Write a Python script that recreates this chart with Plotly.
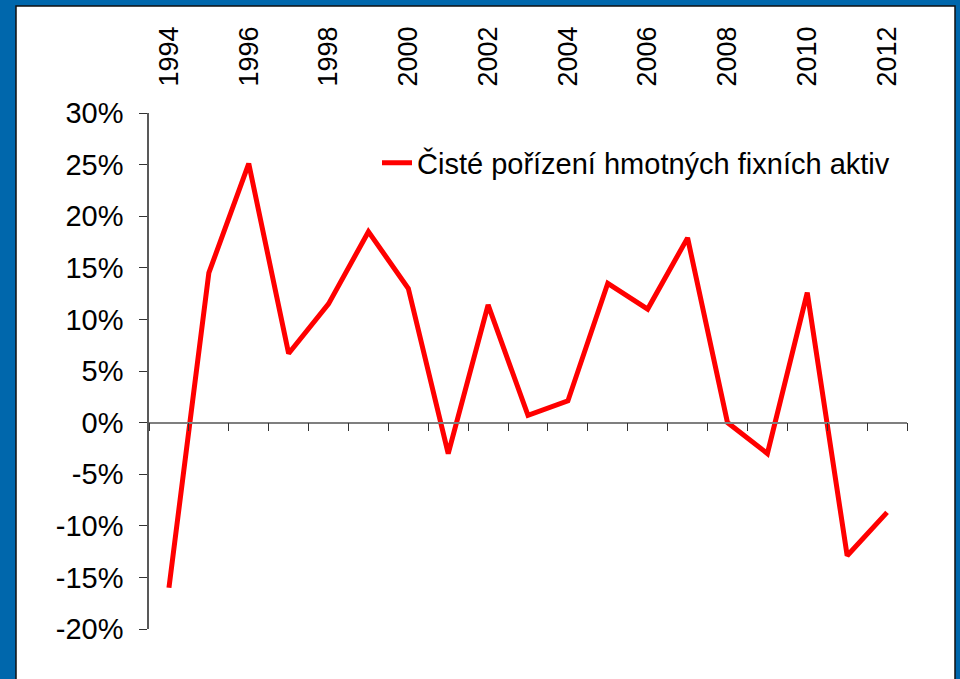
import plotly.graph_objects as go

years = list(range(1994, 2013))
values = [-16.0, 14.5, 25.1, 6.7, 11.5, 18.5, 13.0, -3.0, 11.4, 0.7,
          2.1, 13.5, 11.0, 17.9, 0.0, -3.0, 12.6, -12.9, -8.7]
series_name = "Čisté pořízení hmotných fixních aktiv"
top_labels = years[::2]
y_tick_values = [-20, -15, -10, -5, 0, 5, 10, 15, 20, 25, 30]
y_tick_labels = ["-20%", "-15%", "-10%", "-5%", "0%", "5%", "10%", "15%", "20%", "25%", "30%"]

vals = [v / 100 for v in values]
YMIN, YMAX = -0.2, 0.3

W, H = 960, 679
L, R, T, B = 149, 53, 113, 50
pw, ph = W - L - R, H - T - B

def px_x(px):
    return (px - L) / pw

def px_y(py):
    return (H - B - py) / ph

FONT = "Liberation Sans, Arial, sans-serif"
BLUE = "#0067AC"

fig = go.Figure()
fig.add_trace(go.Scatter(
    x=years, y=vals, mode="lines", name=series_name,
    line=dict(color="#FF0000", width=5), xaxis="x", yaxis="y",
))
# invisible trace for top axis
fig.add_trace(go.Scatter(
    x=years, y=vals, mode="lines", line=dict(width=0), opacity=0,
    showlegend=False, hoverinfo="skip", xaxis="x2", yaxis="y",
))

xr = [years[0] - 0.5, years[-1] + 0.5]
bounds = [y - 0.5 for y in years] + [years[-1] + 0.5]

fig.update_layout(
    width=W, height=H,
    margin=dict(l=L, r=R, t=T, b=B, pad=0),
    paper_bgcolor=BLUE,
    plot_bgcolor="white",
    font=dict(family=FONT, color="black", size=26),
    showlegend=True,
    legend=dict(
        x=px_x(377), xanchor="left", y=px_y(163), yanchor="middle",
        bgcolor="rgba(0,0,0,0)", font=dict(size=29, family=FONT, color="black"),
        borderwidth=0,
    ),
    xaxis=dict(
        range=xr, anchor="free", position=(0 - YMIN) / (YMAX - YMIN),
        showline=True, linecolor="#7f7f7f", linewidth=1.5,
        tickmode="array", tickvals=bounds, showticklabels=False,
        ticks="outside", ticklen=8, tickcolor="#333", tickwidth=1,
        showgrid=False, zeroline=False,
    ),
    xaxis2=dict(
        range=xr, overlaying="x", side="top", anchor="y",
        tickmode="array", tickvals=top_labels, ticktext=[str(y) for y in top_labels],
        tickangle=-90, ticks="outside", ticklen=20, tickcolor="rgba(0,0,0,0)",
        showline=False, showgrid=False, zeroline=False,
        tickfont=dict(size=27, family=FONT, color="black"),
    ),
    yaxis=dict(
        range=[YMIN, YMAX], tickmode="array",
        tickvals=[v / 100 for v in y_tick_values], ticktext=y_tick_labels,
        showline=True, linecolor="#595959", linewidth=1.5,
        ticks="outside", ticklen=8, tickcolor="#333",
        ticklabelstandoff=10,
        showgrid=False, zeroline=False,
        tickfont=dict(size=29, family=FONT, color="black"),
    ),
    shapes=[
        dict(type="rect", xref="paper", yref="paper", layer="below",
             x0=px_x(16), x1=px_x(955), y0=px_y(700), y1=px_y(6),
             fillcolor="white", line=dict(color="#111", width=1.5)),
    ],
)

fig.write_html(
    "out.html",
    config={"displayModeBar": False},
    post_script="document.body.style.margin='0';document.body.style.background='%s';" % BLUE,
)
